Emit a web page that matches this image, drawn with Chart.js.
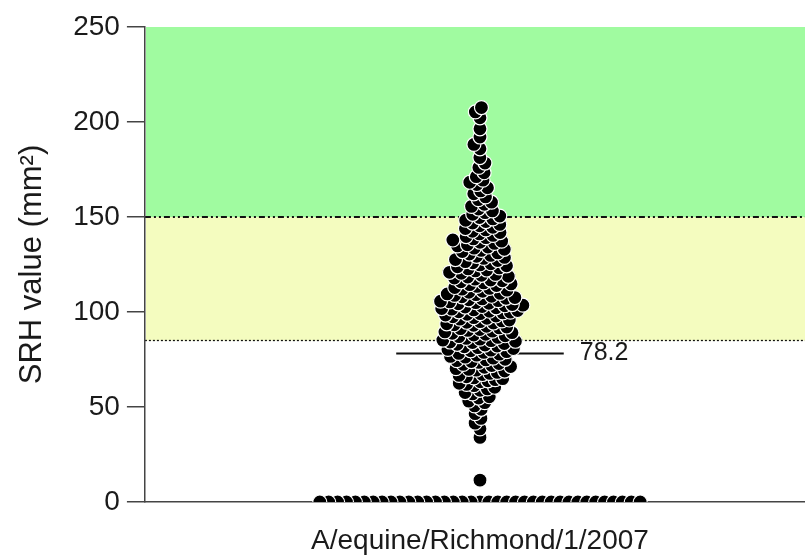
<!DOCTYPE html>
<html>
<head>
<meta charset="utf-8">
<script src="https://cdn.jsdelivr.net/npm/chart.js@4.4.1/dist/chart.umd.min.js"></script>
<style>
  html, body { margin: 0; padding: 0; background: #fff; overflow: hidden; }
  canvas { display: block; }
</style>
</head>
<body>
<canvas id="chart" width="805" height="556"></canvas>
<script>
// SRH scatter for one virus, with threshold bands and the marked 78.2 line.

var strainLabel = "A/equine/Richmond/1/2007";
var yTitle = "SRH value (mm\u00b2)";
var yTicks = [0, 50, 100, 150, 200, 250];
var bandLimits = [85, 150, 250];          // yellow 85-150, green 150-250
var markValue = 78.2;
var markLabel = "78.2";

// SRH per serum sample (zeros first, then the cloud)
var srhZero = [0, 0, 0, 0, 0, 0, 0, 0, 0, 0, 0, 0, 0, 0, 0, 0, 0, 0, 0,
               0, 0, 0, 0, 0, 0, 0, 0, 0, 0, 0, 0, 0, 0, 0, 0, 0, 0];
var srhLow = [11.5, 34, 38.5, 41.5, 44, 46.5, 48.8,
              50.6, 52.3, 53.1, 54.7, 55.4, 56.9, 57.6, 58.8, 59.5,
              60.4, 61.2, 61.9, 62.5, 63.3, 63.8, 64.4, 64.9,
              65.3, 65.9, 66.6, 67.1, 67.7, 68.2, 68.9, 69.4, 69.8,
              70.2, 70.9, 71.3, 71.8, 72.4, 72.9, 73.5, 73.9, 74.4, 74.8,
              75.1, 75.7, 76.2, 76.6, 77.3, 77.8, 78.2, 78.7, 79.1, 79.6, 79.9,
              80.3, 80.8, 81.2, 81.7, 82.1, 82.6, 83.0, 83.4, 83.9, 84.2, 84.6, 84.9];
var srhMid = [85.2, 85.7, 86.1, 86.6, 87.0, 87.5, 87.9, 88.3, 88.8, 89.1, 89.5, 89.9,
              90.3, 90.8, 91.2, 91.6, 92.1, 92.5, 93.0, 93.3, 93.8, 94.2, 94.6, 94.9,
              95.3, 95.8, 96.2, 96.7, 97.0, 97.5, 97.9, 98.4, 98.8, 99.1, 99.5, 99.9,
              100.1, 100.4, 100.8, 101.1, 101.5, 101.8, 102.2, 102.6, 102.9, 103.3, 103.6, 103.9, 104.3, 104.6, 104.9,
              105.3, 105.7, 106.0, 106.4, 106.9, 107.2, 107.6, 108.0, 108.3, 108.7, 109.1, 109.5, 109.8,
              110.4, 110.9, 111.5, 112.0, 112.4, 112.9, 113.5, 113.9, 114.4, 114.8,
              115.3, 115.9, 116.4, 116.8, 117.3, 117.9, 118.4, 118.8, 119.3, 119.8,
              120.4, 120.9, 121.6, 122.1, 122.7, 123.2, 123.8, 124.3, 124.8,
              125.4, 125.9, 126.5, 127.1, 127.6, 128.2, 128.7, 129.3, 129.8,
              130.5, 131.1, 131.8, 132.4, 133.0, 133.6, 134.2, 134.8,
              135.4, 136.1, 136.7, 137.3, 137.9, 138.5, 139.1, 139.7,
              140.3, 141.1, 141.8, 142.5, 143.2, 143.9, 144.6,
              145.4, 146.1, 146.8, 147.6, 148.3, 149.0, 149.7];
var srhHigh = [150.5, 151.4, 152.3, 153.2, 154.2,
               155.6, 156.7, 157.8, 159.1,
               160.6, 162.2, 163.7,
               165.4, 167.1, 168.3, 169.4,
               171.2, 173.3, 176.1, 178.4, 181.3, 185.9, 188.2, 192.1, 196.4,
               202.2, 205.3, 207.6];

var FONT = "'Liberation Sans', Arial, sans-serif";
var INK = "#1a1a1a";

var srhCloud = srhLow.concat(srhMid, srhHigh);
var srhAll = srhZero.concat(srhCloud);

var bandPlugin = {
  id: "bands",
  beforeDraw: function (chart) {
    var ctx = chart.ctx, a = chart.chartArea, y = chart.scales.y;
    var yLo = y.getPixelForValue(bandLimits[0]);
    var yMid = y.getPixelForValue(bandLimits[1]);
    var yTop = y.getPixelForValue(bandLimits[2]);
    ctx.save();
    ctx.fillStyle = "#a0fba0";
    ctx.fillRect(a.left + 1, yTop, a.right - a.left, yMid - yTop);
    ctx.fillStyle = "#f4fcbf";
    ctx.fillRect(a.left + 1, yMid, a.right - a.left, yLo - yMid);

    ctx.strokeStyle = "#111";
    ctx.lineWidth = 2;
    ctx.setLineDash([6, 3, 2, 3, 2, 3]);
    ctx.beginPath(); ctx.moveTo(a.left, yMid); ctx.lineTo(a.right, yMid); ctx.stroke();

    ctx.lineWidth = 1.3;
    ctx.setLineDash([2, 2]);
    ctx.beginPath(); ctx.moveTo(a.left, yLo); ctx.lineTo(a.right, yLo); ctx.stroke();
    ctx.restore();
  },
  afterDatasetsDraw: function (chart) {
    var ctx = chart.ctx;
    ctx.save();
    ctx.fillStyle = INK;
    ctx.font = "25px " + FONT;
    ctx.textBaseline = "middle";
    ctx.fillText(markLabel, chart.scales.x.getPixelForValue(0.25) + 16, chart.scales.y.getPixelForValue(markValue));
    ctx.restore();
  }
};

var chart = new Chart(document.getElementById("chart"), {
  type: "scatter",
  data: {
    datasets: [
      {
        data: srhAll.map(function (v) { return { x: 0, y: v }; }),
        pointRadius: 7,
        pointBackgroundColor: "#000",
        pointBorderColor: "#fff",
        pointBorderWidth: 1.2
      },
      {
        type: "line",
        data: [{ x: -0.25, y: markValue }, { x: 0.25, y: markValue }],
        borderColor: "#111",
        borderWidth: 2,
        pointRadius: 0
      }
    ]
  },
  options: {
    responsive: false,
    animation: false,
    layout: { autoPadding: false, padding: { left: 14, top: 27, right: 0, bottom: 0 } },
    plugins: { legend: { display: false }, tooltip: { enabled: false } },
    scales: {
      x: {
        type: "linear", min: -1, max: 0.97,
        afterBuildTicks: function (axis) { axis.ticks = [{ value: 0 }]; },
        ticks: {
          callback: function () { return strainLabel; },
          color: INK, padding: 1,
          font: { family: FONT, size: 28, lineHeight: 1 }
        },
        grid: { drawOnChartArea: false, drawTicks: true, tickLength: 24, tickColor: "rgba(0,0,0,0)" },
        border: { display: true, color: "#444", width: 1.5 }
      },
      y: {
        min: 0, max: 250,
        afterBuildTicks: function (axis) { axis.ticks = yTicks.map(function (v) { return { value: v }; }); },
        ticks: { color: INK, padding: 7, font: { family: FONT, size: 28 } },
        grid: { drawOnChartArea: false, drawTicks: true, tickLength: 18, color: "#444", lineWidth: 1.5 },
        border: { display: true, color: "#444", width: 1.5 },
        title: {
          display: true, text: yTitle, color: INK,
          font: { family: FONT, size: 31 },
          padding: { top: 0, bottom: 15 }
        }
      }
    }
  },
  plugins: [bandPlugin]
});

// lay the points out as a swarm around the strain centre, in pixels from the scales
function swarmOffsets(values, yPix, d) {
  var placed = [];
  return values.map(function (v) {
    var py = yPix(v);
    var blocks = [];
    placed.forEach(function (p) {
      var dy = Math.abs(p.y - py);
      if (dy < d) {
        var w = Math.sqrt(d * d - dy * dy);
        blocks.push([p.x - w, p.x + w]);
      }
    });
    var cands = [0];
    blocks.forEach(function (b) { cands.push(b[0], b[1]); });
    cands.sort(function (a, b) { return Math.abs(a) - Math.abs(b); });
    var x = 0;
    for (var i = 0; i < cands.length; i++) {
      var c = cands[i];
      var ok = blocks.every(function (b) { return c <= b[0] + 1e-6 || c >= b[1] - 1e-6; });
      if (ok) { x = c; break; }
    }
    placed.push({ x: x, y: py });
    return x;
  });
}

var xs = chart.scales.x, ys = chart.scales.y;
var centre = xs.getPixelForValue(0);
var yPix = function (v) { return ys.getPixelForValue(v); };
// the zero row is spaced a little wider than the overlapping cloud
var offs = swarmOffsets(srhZero, yPix, 8.9).concat(swarmOffsets(srhCloud, yPix, 7.5));
chart.data.datasets[0].data = srhAll.map(function (v, i) {
  return { x: xs.getValueForPixel(centre + offs[i]), y: v };
});
chart.update("none");
</script>
</body>
</html>
